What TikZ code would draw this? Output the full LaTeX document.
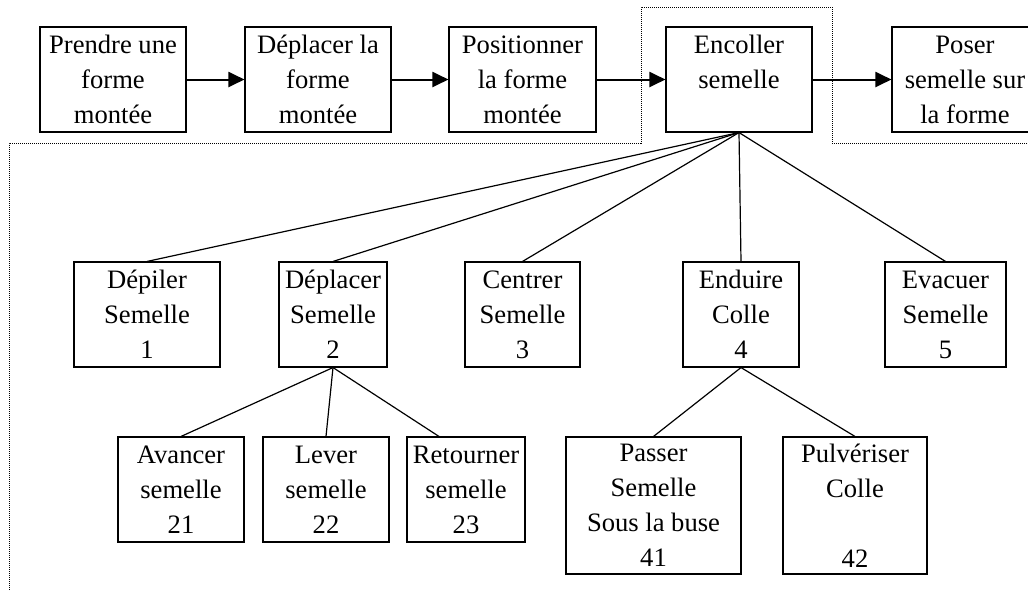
\documentclass[tikz,border=0pt]{standalone}
\usepackage{fontspec}
\setmainfont{Liberation Serif}
\usetikzlibrary{arrows.meta}

\begin{document}
\begin{tikzpicture}[x=1pt, y=-1pt,
  box/.style={draw, line width=1.1pt, align=center, inner sep=0pt, minimum height=105pt, font=\fontsize{26.6}{35}\selectfont},
  flow/.style={line width=2pt, -{Triangle[length=16pt,width=15pt]}},
  link/.style={line width=1.2pt}]
\useasboundingbox (0,0) rectangle (1028,590);
\draw[densely dotted, line width=1pt] (9,600) -- (9,143) -- (641,143) -- (641,7) -- (832,7) -- (832,143) -- (1040,143);
\node[box, minimum width=146pt] (prendre) at (113,79.5) {Prendre une\\forme\\montée};
\node[box, minimum width=146pt] (deplacerforme) at (318,79.5) {Déplacer la\\forme\\montée};
\node[box, minimum width=147pt] (positionner) at (522.5,79.5) {Positionner\\la forme\\montée};
\node[box, minimum width=146pt] (encoller) at (739,79.5) {Encoller\\semelle\\\mbox{}};
\node[box, minimum width=146pt] (poser) at (965,79.5) {Poser\\semelle sur\\la forme};
\draw[flow] (prendre) -- (deplacerforme);
\draw[flow] (deplacerforme) -- (positionner);
\draw[flow] (positionner) -- (encoller);
\draw[flow] (encoller) -- (poser);
\node[box, minimum width=146pt] (depiler) at (147,314.5) {Dépiler\\Semelle\\1};
\node[box, minimum width=108pt] (deplacer) at (333,314.5) {Déplacer\\Semelle\\2};
\node[box, minimum width=115pt] (centrer) at (522.5,314.5) {Centrer\\Semelle\\3};
\node[box, minimum width=116pt] (enduire) at (741,314.5) {Enduire\\Colle\\4};
\node[box, minimum width=121pt] (evacuer) at (945.5,314.5) {Evacuer\\Semelle\\5};
\draw[link] (encoller.south) -- (depiler.north);
\draw[link] (encoller.south) -- (deplacer.north);
\draw[link] (encoller.south) -- (centrer.north);
\draw[link] (encoller.south) -- (enduire.north);
\draw[link] (encoller.south) -- (evacuer.north);
\node[box, minimum width=126pt] (avancer) at (181,489.5) {Avancer\\semelle\\21};
\node[box, minimum width=126pt] (lever) at (326,489.5) {Lever\\semelle\\22};
\node[box, minimum width=118pt] (retourner) at (466,489.5) {Retourner\\semelle\\23};
\node[box, minimum width=175pt, minimum height=137pt] (passer) at (653.5,505.5) {Passer\\Semelle\\Sous la buse\\41};
\node[box, minimum width=144pt, minimum height=137pt] (pulveriser) at (855,505.5) {Pulvériser\\Colle\\\mbox{}\\42};
\draw[link] (deplacer.south) -- (avancer.north);
\draw[link] (deplacer.south) -- (lever.north);
\draw[link] (deplacer.south) -- ([xshift=-27pt]retourner.north);
\draw[link] (enduire.south) -- (passer.north);
\draw[link] (enduire.south) -- (pulveriser.north);
\end{tikzpicture}
\end{document}
